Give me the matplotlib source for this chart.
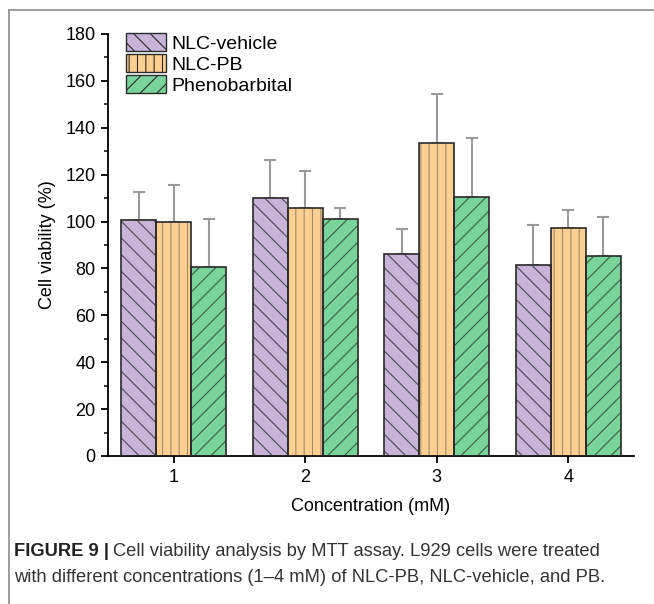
import matplotlib
matplotlib.use("Agg")
import matplotlib.pyplot as plt
from matplotlib.lines import Line2D
from matplotlib.patches import Patch
from matplotlib.ticker import MultipleLocator
import numpy as np

plt.rcParams['font.family'] = ['Liberation Sans', 'DejaVu Sans']
plt.rcParams['hatch.linewidth'] = 0.8

concentrations = ["1", "2", "3", "4"]
series_names = ["NLC-vehicle", "NLC-PB", "Phenobarbital"]
nlc_vehicle = [100.7, 109.9, 86.2, 81.3]
nlc_vehicle_err = [11.9, 16.2, 10.5, 17.2]
nlc_pb = [99.7, 105.9, 133.7, 97.1]
nlc_pb_err = [15.9, 15.8, 20.9, 7.8]
phenobarbital = [80.8, 101.0, 110.4, 85.3]
phenobarbital_err = [20.4, 4.9, 25.4, 16.8]

values = [nlc_vehicle, nlc_pb, phenobarbital]
errors = [nlc_vehicle_err, nlc_pb_err, phenobarbital_err]
fills = ["#c9b3d9", "#fdcf90", "#79d49a"]
hatch_cols = ["#4a4a55", "#a08a6a", "#3a5a44"]
hatches = ["\\\\", "||", "//"]

fig = plt.figure(figsize=(6.54, 6.04), dpi=100)
ax = fig.add_axes([108/654, 1-456/604, (634-108)/654, 422/604])

x = np.arange(1, len(concentrations) + 1)
w = 0.267
handles = []
for i in range(3):
    xs = x + (i - 1) * w
    ax.bar(xs, values[i], width=w, color=fills[i], edgecolor=hatch_cols[i],
           hatch=hatches[i], linewidth=0, zorder=2)
    ax.bar(xs, values[i], width=w, fill=False, edgecolor="#2a2a2a",
           linewidth=1.2, zorder=3)
    ax.errorbar(xs, values[i], yerr=[np.zeros(4), errors[i]], fmt='none',
                ecolor="#9a9a9a", elinewidth=1.5, capsize=4.5, capthick=1.5, zorder=1)
    handles.append(Patch(facecolor=fills[i], edgecolor="#2a2a2a", hatch=hatches[i],
                         linewidth=1.0, label=series_names[i]))

ax.set_xlim(0.5, 4.5)
ax.set_ylim(0, 180)
ax.set_xticks(x)
ax.set_xticklabels(concentrations)
ax.yaxis.set_major_locator(MultipleLocator(20))
ax.yaxis.set_minor_locator(MultipleLocator(10))
for s in ["top", "right"]:
    ax.spines[s].set_visible(False)
for s in ["left", "bottom"]:
    ax.spines[s].set_linewidth(1.3)
ax.tick_params(axis='both', which='major', direction='out', length=5, width=1.3,
               labelsize=13, pad=4)
ax.tick_params(axis='y', which='minor', direction='out', length=3, width=1.1)
ax.tick_params(axis='x', which='minor', bottom=False)
ax.set_xlabel("Concentration (mM)", fontsize=13, labelpad=9)
ax.set_ylabel("Cell viability (%)", fontsize=13, labelpad=7)

leg = ax.legend(handles=handles, loc='upper left',
                bbox_to_anchor=((124 - 108) / 526, 1.006),
                frameon=False, fontsize=14, handlelength=2.05, handleheight=1.0,
                labelspacing=0.08, handletextpad=0.3, borderaxespad=0.0,
                borderpad=0.1)

# figure frame (top and left)
fig.add_artist(Line2D([9/654, 9/654], [0, 1-10/604], color="#8c8c8c", lw=1.2,
                      transform=fig.transFigure))
fig.add_artist(Line2D([9/654, 1], [1-10/604, 1-10/604], color="#8c8c8c", lw=1.2,
                      transform=fig.transFigure))

# caption
fig.canvas.draw()
r = fig.canvas.get_renderer()
cap_fs = 13.2
t1 = fig.text(14/654, 1-551/604, "FIGURE 9 |", fontsize=cap_fs, fontweight='bold',
              color="#222222", va='center', ha='left')
bb = t1.get_window_extent(renderer=r)
x2 = (bb.x1 + 4) / fig.bbox.width
fig.text(x2, 1-551/604, "Cell viability analysis by MTT assay. L929 cells were treated",
         fontsize=cap_fs, color="#333333", va='center', ha='left')
fig.text(14/654, 1-578/604,
         "with different concentrations (1\u20134 mM) of NLC-PB, NLC-vehicle, and PB.",
         fontsize=cap_fs, color="#333333", va='center', ha='left')

fig.savefig("out.png", dpi=100)
